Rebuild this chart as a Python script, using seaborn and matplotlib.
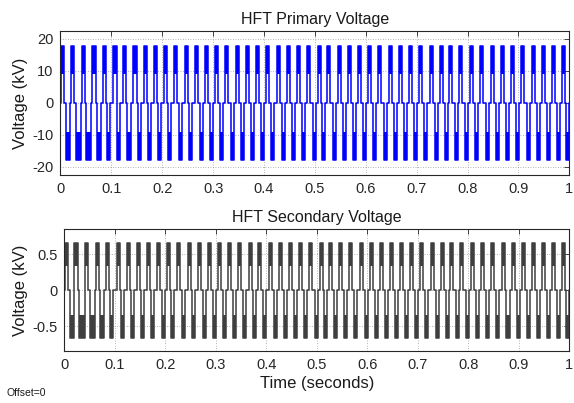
import numpy as np
import pandas as pd
import matplotlib
matplotlib.use('Agg')
import matplotlib.pyplot as plt
import seaborn as sns

# ---- data ----
# centres (s) of the positive pulses
pos_times = [0.0040, 0.0232, 0.0448, 0.0658, 0.0861, 0.1071, 0.1267, 0.1464, 0.1666, 0.1870,
             0.2073, 0.2269, 0.2479, 0.2676, 0.2872, 0.3069, 0.3271, 0.3473, 0.3678, 0.3874,
             0.4077, 0.4279, 0.4483, 0.4680, 0.4882, 0.5084, 0.5275, 0.5477, 0.5674, 0.5878,
             0.6081, 0.6277, 0.6479, 0.6684, 0.6880, 0.7083, 0.7285, 0.7489, 0.7672, 0.7868,
             0.8079, 0.8281, 0.8483, 0.8688, 0.8890, 0.9086, 0.9289, 0.9493, 0.9695, 0.9892]
# widths (s) of the positive pulses
pos_widths = [0.0065] + [0.0060] * 49
# centres (s) of the negative pulses
neg_times = [0.0150, 0.0351, 0.0554, 0.0753, 0.0939, 0.1149, 0.1346, 0.1548, 0.1745, 0.1955,
             0.2151, 0.2361, 0.2564, 0.2774, 0.2971, 0.3167, 0.3375, 0.3572, 0.3776, 0.3972,
             0.4175, 0.4377, 0.4582, 0.4784, 0.4986, 0.5177, 0.5379, 0.5576, 0.5772, 0.5976,
             0.6179, 0.6381, 0.6578, 0.6782, 0.6978, 0.7181, 0.7383, 0.7583, 0.7784, 0.7980,
             0.8183, 0.8385, 0.8582, 0.8786, 0.8988, 0.9190, 0.9387, 0.9591, 0.9794, 0.9965]
neg_widths = [0.0090, 0.0100, 0.0100, 0.0075] + [0.0060] * 46

# voltage levels (kV): inner step and outer peak
primary_levels = [9.0, 17.8]
secondary_levels = [0.34, 0.66]

titles = ["HFT Primary Voltage", "HFT Secondary Voltage"]
x_ticks = [0, 0.1, 0.2, 0.3, 0.4, 0.5, 0.6, 0.7, 0.8, 0.9, 1]
x_ticklabels = ["0", "0.1", "0.2", "0.3", "0.4", "0.5", "0.6", "0.7", "0.8", "0.9", "1"]
primary_yticks = [-20, -10, 0, 10, 20]
primary_yticklabels = ["-20", "-10", "0", "10", "20"]
secondary_yticks = [-0.5, 0, 0.5]
secondary_yticklabels = ["-0.5", "0", "0.5"]


def build_wave(levels):
    events = []
    for c, w in zip(pos_times, pos_widths):
        events.append((c - w / 2, levels[0], levels[1]))
        events.append((c + w / 2, 0.0, 0.0))
    for c, w in zip(neg_times, neg_widths):
        events.append((c - w / 2, -levels[0], -levels[1]))
        events.append((c + w / 2, 0.0, 0.0))
    events.sort(key=lambda e: e[0])
    t = [0.0] + [e[0] for e in events] + [1.0]
    inner = [0.0] + [e[1] for e in events] + [0.0]
    outer = [0.0] + [e[2] for e in events] + [0.0]
    return pd.DataFrame({"t": t, "inner": inner, "outer": outer})


sns.set_style("white")
plt.rcParams['font.family'] = ['Liberation Sans', 'DejaVu Sans']
plt.rcParams['axes.unicode_minus'] = False

fig = plt.figure(figsize=(5.74, 4.03), dpi=100)
ax1 = fig.add_axes([0.1054, 0.5658, 0.8864, 0.3581])
ax2 = fig.add_axes([0.1120, 0.1298, 0.8798, 0.3012])

configs = [
    (ax1, primary_levels, "#0000ff", (-22.5, 22.5), primary_yticks, primary_yticklabels),
    (ax2, secondary_levels, "#3f3f3f", (-0.84, 0.85), secondary_yticks, secondary_yticklabels),
]

for i, (ax, levels, color, ylim, yt, ytl) in enumerate(configs):
    df = build_wave(levels)
    ax.fill_between(df["t"], df["inner"], df["outer"], step="post", color=color, lw=0)
    sns.lineplot(data=df, x="t", y="outer", ax=ax, color=color, lw=1.1,
                 drawstyle="steps-post", estimator=None, sort=False,
                 solid_joinstyle="round")
    ax.set_xlim(0, 1)
    ax.set_ylim(*ylim)
    ax.set_xticks(x_ticks)
    ax.set_xticklabels(x_ticklabels)
    ax.set_yticks(yt)
    ax.set_yticklabels(ytl)
    ax.grid(True, linestyle=(0, (1, 2)), color="#9a9a9a", lw=0.6)
    ax.set_axisbelow(True)
    ax.tick_params(direction="in", length=3.5, width=0.6, top=True, right=True,
                   labelsize=10.5, colors="#262626", pad=5)
    for s in ax.spines.values():
        s.set_color("#262626")
        s.set_linewidth(0.8)
    ax.set_title(titles[i], fontsize=11.5, color="#1a1a1a", pad=5)
    ax.set_ylabel("Voltage (kV)", fontsize=12, color="#1a1a1a", labelpad=3)
    ax.set_xlabel("")

ax2.set_xlabel("Time (seconds)", fontsize=12, color="#1a1a1a", labelpad=3)
fig.text(0.012, 0.026, "Offset=0", fontsize=7.5, color="#1a1a1a", va="center", ha="left")

fig.savefig("out.png", dpi=100)
